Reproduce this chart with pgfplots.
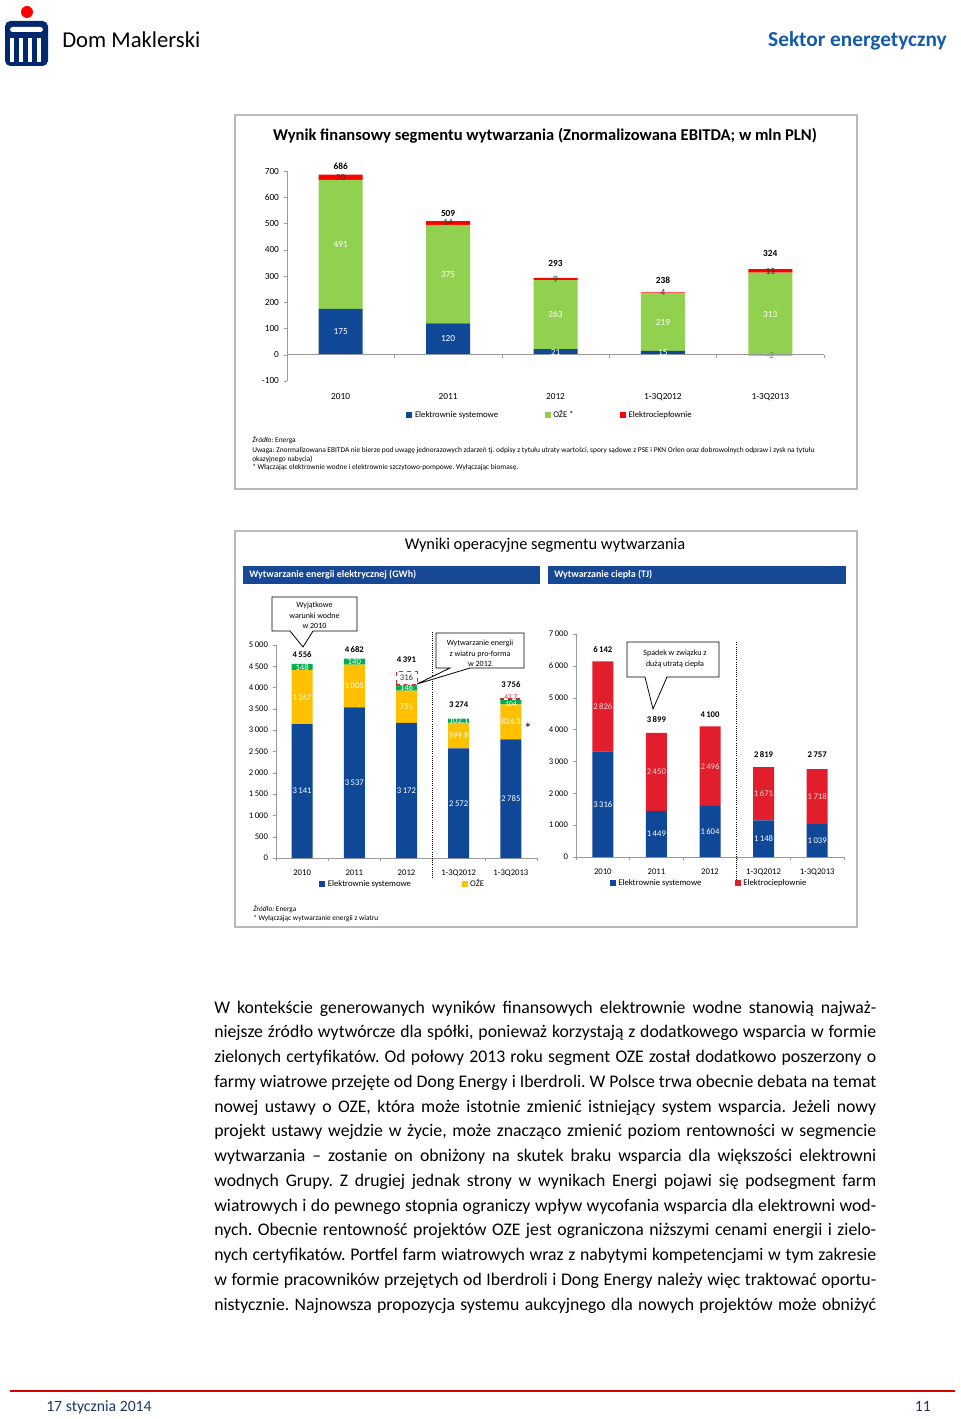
\documentclass[border=0pt]{standalone}
\usepackage{pgfplots}
\pgfplotsset{compat=1.18}
\usepackage{fontspec}
\setmainfont{Carlito}
\definecolor{bluE}{RGB}{16,72,152}
\definecolor{grnL}{RGB}{146,208,80}
\definecolor{redA}{RGB}{255,0,0}
\definecolor{grnD}{RGB}{0,176,80}
\definecolor{yelO}{RGB}{255,192,0}
\definecolor{redB}{RGB}{226,30,45}
\definecolor{hdrB}{RGB}{22,72,150}
\definecolor{frameG}{RGB}{185,185,185}
\definecolor{navy}{RGB}{30,55,110}
\definecolor{pko}{RGB}{0,40,110}
\definecolor{sekt}{RGB}{20,92,168}
\newcommand{\fs}[1]{\fontsize{#1}{#1}\selectfont}
\tikzset{
  lw/.style={font=\fs{6.5}, text=white, inner sep=0pt},
  lk/.style={font=\fs{6.5}, text=black!80, inner sep=0pt},
  lt/.style={font=\bfseries\fs{6.5}, text=black, inner sep=0pt},
  lws/.style={font=\fs{7}, text=white, inner sep=0pt},
  lks/.style={font=\fs{7}, text=black!80, inner sep=0pt},
  lts/.style={font=\bfseries\fs{7}, text=black, inner sep=0pt},
}
\pgfplotsset{
  excel/.style={
    scale only axis, ybar stacked,
    tick align=outside, major tick length=2.5pt, minor tick length=2.5pt,
    axis y line*=left,
    y axis line style={draw=gray!80},
    ytick style={draw=gray!80},
    major x tick style={draw=none},
    minor x tick style={draw=gray!80},
    tick label style={font=\fs{6.5}, text=black},
    /pgf/number format/assume math mode=true,
    /pgf/number format/1000 sep={\,},
    xtick={0,1,2,3,4},
    xticklabels={2010,2011,2012,1-3Q2012,1-3Q2013},
    legend cell align=left,
    clip=false,
  },
  ov/.style={scale only axis, hide axis, clip=false, anchor=south west, xmin=-0.5, xmax=4.5},
}
\begin{document}
\frenchspacing
\begin{tikzpicture}
\begin{scope}[x=0.75pt,y=-0.75pt]
\path[use as bounding box, fill=white] (0,0) rectangle (960,1419);
\coordinate (A1) at (287,381);
\coordinate (A2) at (276,858);
\coordinate (A3) at (576,857);
% header
\fill[redA] (27,12) circle (6);
\fill[pko, rounded corners=4] (5,21) rectangle (48,66);
\fill[white, rounded corners=2] (10,27) rectangle (43,32);
\fill[white] (10,38) rectangle (13.5,62);
\fill[white] (19,38) rectangle (22.5,62);
\fill[white] (28,38) rectangle (31.5,62);
\fill[white] (37,38) rectangle (40.5,62);
\node[anchor=west, inner sep=0, font=\fs{17}] at (62,40) {Dom Maklerski};
\node[anchor=east, inner sep=0, font=\bfseries\fs{16}, text=sekt] at (947,41) {Sektor energetyczny};
% frames
\draw[frameG, line width=1.1pt] (235,115) rectangle (857,489);
\draw[frameG, line width=1.1pt] (235,531) rectangle (857,927);
\node[font=\bfseries\fs{12.4}] at (545,135.5) {Wynik finansowy segmentu wytwarzania (Znormalizowana EBITDA; w mln PLN)};
\node[font=\fs{12.3}] at (545,545) {Wyniki operacyjne segmentu wytwarzania};
\fill[hdrB] (243,566) rectangle (540,584);
\fill[hdrB] (548,566) rectangle (846,584);
\node[anchor=west, inner sep=0, font=\bfseries\fs{7.5}, text=white] at (249,575) {Wytwarzanie energii elektrycznej (GWh)};
\node[anchor=west, inner sep=0, font=\bfseries\fs{7.5}, text=white] at (554,575) {Wytwarzanie ciepła (TJ)};
\end{scope}

% ---------- Chart 1 ----------
\begin{axis}[excel,
  at={(A1)}, anchor=south west,
  width=402.75pt, height=157.5pt,
  xmin=-0.5, xmax=4.5, ymin=-100, ymax=700,
  bar width=33pt,
  ytick={-100,0,100,...,700},
  axis x line*=bottom, x axis line style={draw=none},
  xticklabel style={yshift=-3pt},
  tick label style={font=\fs{7}},
  legend image code/.code={\fill[#1] (0pt,-2.2pt) rectangle (4.4pt,2.2pt);},
  legend style={at={(axis description cs:0.222,-0.162)}, anchor=west, draw=none, fill=none,
    legend columns=3, font=\fs{6.5}, inner sep=0pt,
    /tikz/every even column/.append style={column sep=33pt}},
]
\addplot[fill=bluE, draw=none] coordinates {(0,175) (1,120) (2,21) (3,15) (4,-2)};
\addlegendentry{Elektrownie systemowe}
\addplot[fill=grnL, draw=none] coordinates {(0,491) (1,375) (2,263) (3,219) (4,313)};
\addlegendentry{OŹE *}
\addplot[fill=redA, draw=none] coordinates {(0,20) (1,14) (2,9) (3,4) (4,13)};
\addlegendentry{Elektrociepłownie}
\end{axis}
\begin{axis}[ov, at={(A1)}, width=402.75pt, height=157.5pt, ymin=-100, ymax=700]
\draw[gray!80] (axis cs:-0.5,0) -- (axis cs:4.5,0);
\draw[gray!80] (axis cs:0.5,0) -- ([yshift=-2.5pt]axis cs:0.5,0);
\draw[gray!80] (axis cs:1.5,0) -- ([yshift=-2.5pt]axis cs:1.5,0);
\draw[gray!80] (axis cs:2.5,0) -- ([yshift=-2.5pt]axis cs:2.5,0);
\draw[gray!80] (axis cs:3.5,0) -- ([yshift=-2.5pt]axis cs:3.5,0);
\draw[gray!80] (axis cs:4.5,0) -- ([yshift=-2.5pt]axis cs:4.5,0);
\node[lws] at (axis cs:0,87.5) {175};
\node[lws] at (axis cs:1,60) {120};
\node[lws] at (axis cs:2,10.5) {21};
\node[lws] at (axis cs:3,7.5) {15};
\node[lks, text=gray] at (axis cs:4,-1) {-2};
\node[lws] at (axis cs:0,420.5) {491};
\node[lws] at (axis cs:1,307.5) {375};
\node[lws] at (axis cs:2,152.5) {263};
\node[lws] at (axis cs:3,124.5) {219};
\node[lws] at (axis cs:4,154.5) {313};
\node[lks] at (axis cs:0,676) {20};
\node[lks] at (axis cs:1,502) {14};
\node[lks] at (axis cs:2,288.5) {9};
\node[lks] at (axis cs:3,236) {4};
\node[lks] at (axis cs:4,317.5) {13};
\node[lts] at (axis cs:0,718) {686};
\node[lts] at (axis cs:1,540) {509};
\node[lts] at (axis cs:2,346) {293};
\node[lts] at (axis cs:3,285) {238};
\node[lts] at (axis cs:4,384) {324};
\end{axis}

% ---------- Chart 2 left ----------
\begin{axis}[excel,
  at={(A2)}, anchor=south west,
  width=195.75pt, height=159.75pt,
  xmin=-0.5, xmax=4.5, ymin=0, ymax=5000,
  bar width=15.75pt,
  ytick={0,500,...,5000},
  axis x line*=bottom, x axis line style={-,draw=gray!80},
  minor xtick={-0.5,0.5,1.5,2.5,3.5,4.5},
  xticklabel style={yshift=-3pt},
  legend image code/.code={\fill[#1] (0pt,-2.2pt) rectangle (4.4pt,2.2pt);},
  legend style={at={(axis description cs:0.165,-0.122)}, anchor=west, draw=none, fill=none,
    legend columns=2, font=\fs{6.5}, inner sep=0pt,
    /tikz/every even column/.append style={column sep=36pt}},
]
\addplot[fill=bluE, draw=none] coordinates {(0,3141) (1,3537) (2,3172) (3,2572) (4,2785)};
\addlegendentry{Elektrownie systemowe}
\addplot[fill=yelO, draw=none] coordinates {(0,1267) (1,1005) (2,755) (3,599.8) (4,824.3)};
\addlegendentry{OŹE}
\addplot[fill=grnD, draw=none, forget plot] coordinates {(0,148) (1,140) (2,146) (3,102.1) (4,104)};
\end{axis}
\begin{axis}[ov, at={(A2)}, width=195.75pt, height=159.75pt, ymin=0, ymax=5000,
  ybar stacked, bar width=15.75pt]
\addplot[draw=none, fill=none] coordinates {(2,4073) (4,3713.3)};
\addplot[draw=redB, dashed, fill=white, line width=0.6pt] coordinates {(2,316) (4,42.7)};
\end{axis}
\begin{axis}[ov, at={(A2)}, width=195.75pt, height=159.75pt, ymin=0, ymax=5000]
\node[lw] at (axis cs:0,1570.5) {3\,141};
\node[lw] at (axis cs:1,1768.5) {3\,537};
\node[lw] at (axis cs:2,1586) {3\,172};
\node[lw] at (axis cs:3,1286) {2\,572};
\node[lw] at (axis cs:4,1392.5) {2\,785};
\node[lw] at (axis cs:0,3774.5) {1\,267};
\node[lw] at (axis cs:1,4039.5) {1\,005};
\node[lw] at (axis cs:2,3549.5) {755};
\node[lw] at (axis cs:3,2871.9) {599.8};
\node[lw] at (axis cs:4,3197.2) {824.3};
\node[lw] at (axis cs:0,4482) {148};
\node[lw] at (axis cs:1,4612) {140};
\node[lw] at (axis cs:2,4000) {146};
\node[lw] at (axis cs:3,3222.8) {102.1};
\node[lw, font=\fs{5.5}] at (axis cs:4,3618) {104};
\node[lk] at (axis cs:2,4231) {316};
\node[lk, text=redB, font=\fs{5.5}] at (axis cs:4,3768) {42.7};
\node[lt] at (axis cs:0,4765) {4\,556};
\node[lt] at (axis cs:1,4883) {4\,682};
\node[lt] at (axis cs:2,4648) {4\,391};
\node[lt] at (axis cs:3,3592) {3\,274};
\node[lt] at (axis cs:4,4075) {3\,756};
\draw[densely dotted, line width=0.6pt] (axis cs:2.5,-470) -- (axis cs:2.5,5300);
\end{axis}

% ---------- Chart 2 right ----------
\begin{axis}[excel,
  at={(A3)}, anchor=south west,
  width=201pt, height=167.25pt,
  xmin=-0.5, xmax=4.5, ymin=0, ymax=7000,
  bar width=15.75pt,
  ytick={0,1000,...,7000},
  axis x line*=bottom, x axis line style={-,draw=gray!80},
  minor xtick={-0.5,0.5,1.5,2.5,3.5,4.5},
  xticklabel style={yshift=-3pt},
  legend image code/.code={\fill[#1] (0pt,-2.2pt) rectangle (4.4pt,2.2pt);},
  legend style={at={(axis description cs:0.125,-0.117)}, anchor=west, draw=none, fill=none,
    legend columns=2, font=\fs{6.5}, inner sep=0pt,
    /tikz/every even column/.append style={column sep=23pt}},
]
\addplot[fill=bluE, draw=none] coordinates {(0,3316) (1,1449) (2,1604) (3,1148) (4,1039)};
\addlegendentry{Elektrownie systemowe}
\addplot[fill=redB, draw=none] coordinates {(0,2826) (1,2450) (2,2496) (3,1671) (4,1718)};
\addlegendentry{Elektrociepłownie}
\end{axis}
\begin{axis}[ov, at={(A3)}, width=201pt, height=167.25pt, ymin=0, ymax=7000]
\node[lw] at (axis cs:0,1658) {3\,316};
\node[lw] at (axis cs:1,724.5) {1\,449};
\node[lw] at (axis cs:2,802) {1\,604};
\node[lw] at (axis cs:3,574) {1\,148};
\node[lw] at (axis cs:4,519.5) {1\,039};
\node[lw, text=white!85!red] at (axis cs:0,4729) {2\,826};
\node[lw, text=white!85!red] at (axis cs:1,2674) {2\,450};
\node[lw, text=white!85!red] at (axis cs:2,2852) {2\,496};
\node[lw, text=white!85!red] at (axis cs:3,1983.5) {1\,671};
\node[lw, text=white!85!red] at (axis cs:4,1898) {1\,718};
\node[lt] at (axis cs:0,6497) {6\,142};
\node[lt] at (axis cs:1,4300) {3\,899};
\node[lt] at (axis cs:2,4457) {4\,100};
\node[lt] at (axis cs:3,3201) {2\,819};
\node[lt] at (axis cs:4,3201) {2\,757};
\draw[densely dotted, line width=0.6pt] (axis cs:2.5,-720) -- (axis cs:2.5,6750);
\end{axis}

\begin{scope}[x=0.75pt,y=-0.75pt]
% callouts
\draw[fill=white, line width=0.6pt] (272,597) -- (357,597) -- (357,631) -- (313,631) -- (303,647) -- (290,631) -- (272,631) -- cycle;
\node[font=\fs{6}, inner sep=0] at (314.5,605) {Wyjątkowe};
\node[font=\fs{6}, inner sep=0] at (314.5,615.5) {warunki wodne};
\node[font=\fs{6}, inner sep=0] at (314.5,625.5) {w 2010};
\draw[fill=white, line width=0.6pt] (436,633) -- (524,633) -- (524,668) -- (470,668) -- (417,684) -- (450,668) -- (436,668) -- cycle;
\node[font=\fs{6}, inner sep=0] at (480,643) {Wytwarzanie energii};
\node[font=\fs{6}, inner sep=0] at (480,654) {z wiatru  pro-forma};
\node[font=\fs{6}, inner sep=0] at (480,664) {w 2012};
\draw[fill=white, line width=0.6pt] (627,642) -- (719,642) -- (719,677) -- (667,677) -- (653,709) -- (645,677) -- (627,677) -- cycle;
\node[font=\fs{6}, inner sep=0] at (675,653) {Spadek w związku z};
\node[font=\fs{6}, inner sep=0] at (675,664.5) {dużą utratą ciepła};
\node[font=\fs{11}, inner sep=0] at (528,728) {*};
% notes chart 1
\node[anchor=base west, inner sep=0, font=\fs{5.55}] at (252,442) {\textit{Źródło:} Energa};
\node[anchor=base west, inner sep=0, font=\fs{5.55}] at (252,452) {Uwaga: Znormalizowana EBITDA nie bierze pod uwagę jednorazowych zdarzeń tj. odpisy z tytułu utraty wartości, spory sądowe z PSE i PKN Orlen oraz dobrowolnych odpraw i zysk na tytułu};
\node[anchor=base west, inner sep=0, font=\fs{5.55}] at (252,461) {okazyjnego nabycia)};
\node[anchor=base west, inner sep=0, font=\fs{5.55}] at (252,469) {* Włączając elektrownie wodne i elektrownie szczytowo-pompowe. Wyłączając biomasę.};
\node[anchor=base west, inner sep=0, font=\fs{5.5}] at (253,911) {\textit{Źródło:} Energa};
\node[anchor=base west, inner sep=0, font=\fs{5.5}] at (253,920) {* Wyłączając wytwarzanie energii z wiatru};
% paragraph
\begin{scope}[every node/.style={anchor=base west, inner sep=0, font=\fs{13.3}}]
\node at (214,1013) {\makebox[496.5pt][s]{W kontekście generowanych wyników finansowych elektrownie wodne stanowią najważ-}};
\node at (214,1037.75) {\makebox[496.5pt][s]{niejsze źródło wytwórcze dla spółki, ponieważ korzystają z dodatkowego wsparcia w formie}};
\node at (214,1062.5) {\makebox[496.5pt][s]{zielonych certyfikatów. Od połowy 2013 roku segment OZE został dodatkowo poszerzony o}};
\node at (214,1087.25) {\makebox[496.5pt][s]{farmy wiatrowe przejęte od Dong Energy i Iberdroli. W Polsce trwa obecnie debata na temat}};
\node at (214,1112) {\makebox[496.5pt][s]{nowej ustawy o OZE, która może istotnie zmienić istniejący system wsparcia. Jeżeli nowy}};
\node at (214,1136.75) {\makebox[496.5pt][s]{projekt ustawy wejdzie w życie, może znacząco zmienić poziom rentowności w segmencie}};
\node at (214,1161.5) {\makebox[496.5pt][s]{wytwarzania – zostanie on obniżony na skutek braku wsparcia dla większości elektrowni}};
\node at (214,1186.25) {\makebox[496.5pt][s]{wodnych Grupy. Z drugiej jednak strony w wynikach Energi pojawi się podsegment farm}};
\node at (214,1211) {\makebox[496.5pt][s]{wiatrowych i do pewnego stopnia ograniczy wpływ wycofania wsparcia dla elektrowni wod-}};
\node at (214,1235.75) {\makebox[496.5pt][s]{nych. Obecnie rentowność projektów OZE jest ograniczona niższymi cenami energii i zielo-}};
\node at (214,1260.5) {\makebox[496.5pt][s]{nych certyfikatów. Portfel farm wiatrowych wraz z nabytymi kompetencjami w tym zakresie}};
\node at (214,1285.25) {\makebox[496.5pt][s]{w formie pracowników przejętych od Iberdroli i Dong Energy należy więc traktować oportu-}};
\node at (214,1310) {\makebox[496.5pt][s]{nistycznie. Najnowsza propozycja systemu aukcyjnego dla nowych projektów może obniżyć}};
\end{scope}
% footer
\draw[red!85!black, line width=1.1pt] (10,1391) -- (955,1391);
\node[anchor=base west, inner sep=0, font=\fs{11.8}, text=navy] at (46,1411) {17 stycznia 2014};
\node[anchor=base east, inner sep=0, font=\fs{11.8}, text=navy] at (931,1411) {11};
\end{scope}
\end{tikzpicture}
\end{document}
